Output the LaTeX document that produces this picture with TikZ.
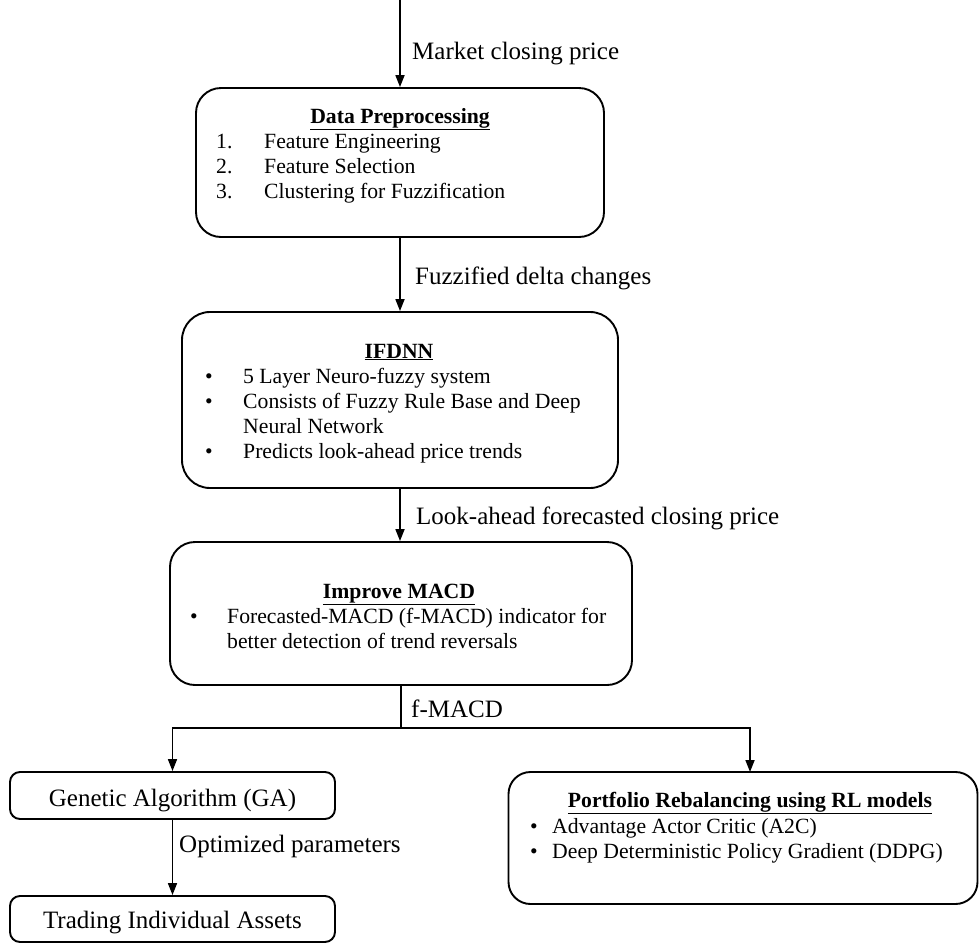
\documentclass[tikz,border=0pt]{standalone}
\usepackage{fontspec}
\setmainfont{Liberation Serif}
\usetikzlibrary{arrows.meta}
\tikzset{
  box/.style={draw, line width=1.9pt, inner sep=0pt},
  lbl/.style={font=\fontsize{25}{29}\selectfont, anchor=base west, inner sep=0pt},
  txt/.style={font=\fontsize{21.7}{25}\selectfont, anchor=base west, inner sep=0pt},
  btxt/.style={font=\fontsize{25}{29}\selectfont, anchor=base, inner sep=0pt},
  ttl/.style={font=\fontsize{21.7}{25}\selectfont\bfseries, anchor=base, inner sep=0pt},
  conn/.style={line width=1.7pt},
  arr/.style={line width=1.7pt, -{Triangle[length=12pt,width=9pt]}}
}
\begin{document}
\begin{tikzpicture}[x=1pt,y=-1pt]
\useasboundingbox (0,0) rectangle (980,943);

% boxes
\node[box, rounded corners=25pt, minimum width=408pt, minimum height=149pt] (dp) at (400,162.5) {};
\node[box, rounded corners=28pt, minimum width=436pt, minimum height=176pt] (ifd) at (400,400) {};
\node[box, rounded corners=25pt, minimum width=462pt, minimum height=143pt] (mac) at (401,613.5) {};
\node[box, rounded corners=10pt, minimum width=325pt, minimum height=47pt] (ga) at (172.5,795.5) {};
\node[box, rounded corners=10pt, minimum width=325pt, minimum height=46pt] (tr) at (172.5,919) {};
\node[box, rounded corners=22pt, minimum width=469pt, minimum height=132pt] (pf) at (743,838) {};

% connectors
\coordinate (in) at (400,0);
\coordinate (j) at (mac.south |- 0,728);
\coordinate (pfin) at (750,772);
\draw[arr] (in) -- (dp.north);
\draw[arr] (dp.south) -- (ifd.north);
\draw[arr] (ifd.south) -- (ifd.south |- mac.north);
\draw[conn] (mac.south) -- (j);
\draw[arr] (j) -| (ga.north);
\draw[arr] (j) -| (pfin);
\draw[arr] (ga.south) -- (tr.north);

% connector labels
\node[lbl] (l1) at (412,59) {Market closing price};
\node[lbl] (l2) at (415,284) {Fuzzified delta changes};
\node[lbl] (l3) at (416,524) {Look-ahead forecasted closing price};
\node[lbl] (l4) at (411,717) {f-MACD};
\node[lbl] (l5) at (179,852) {Optimized parameters};

% Data preprocessing
\node[ttl] (dpt) at (400,123) {\underline{Data Preprocessing}};
\node[txt] (dpn1) at (216,148) {1.};
\node[txt] (dpn2) at (216,173) {2.};
\node[txt] (dpn3) at (216,198) {3.};
\node[txt] (dpi1) at (264,148) {Feature Engineering};
\node[txt] (dpi2) at (264,173) {Feature Selection};
\node[txt] (dpi3) at (264,198) {Clustering for Fuzzification};

% IFDNN
\node[ttl] (ift) at (399,358) {\underline{IFDNN}};
\node[txt] (ifb1) at (205,383) {\textbullet};
\node[txt] (ifb2) at (205,408) {\textbullet};
\node[txt] (ifb3) at (205,458) {\textbullet};
\node[txt] (ifi1) at (243,383) {5 Layer Neuro-fuzzy system};
\node[txt] (ifi2) at (243,408) {Consists of Fuzzy Rule Base and Deep};
\node[txt] (ifi2b) at (243,433) {Neural Network};
\node[txt] (ifi3) at (243,458) {Predicts look-ahead price trends};

% Improve MACD
\node[ttl] (mact) at (399,598) {\underline{Improve MACD}};
\node[txt] (macb1) at (190,623) {\textbullet};
\node[txt] (maci1) at (227,623) {Forecasted-MACD (f-MACD) indicator for};
\node[txt] (maci1b) at (227,648) {better detection of trend reversals};

% GA and trading
\node[btxt] (gat) at (172.5,806) {Genetic Algorithm (GA)};
\node[btxt] (trt) at (172.5,928) {Trading Individual Assets};

% Portfolio
\node[ttl] (pft) at (750,807) {\underline{Portfolio Rebalancing using RL models}};
\node[txt] (pfb1) at (530,833) {\textbullet};
\node[txt] (pfb2) at (530,858) {\textbullet};
\node[txt] (pfi1) at (552,833) {Advantage Actor Critic (A2C)};
\node[txt] (pfi2) at (552,858) {Deep Deterministic Policy Gradient (DDPG)};
\end{tikzpicture}
\end{document}
